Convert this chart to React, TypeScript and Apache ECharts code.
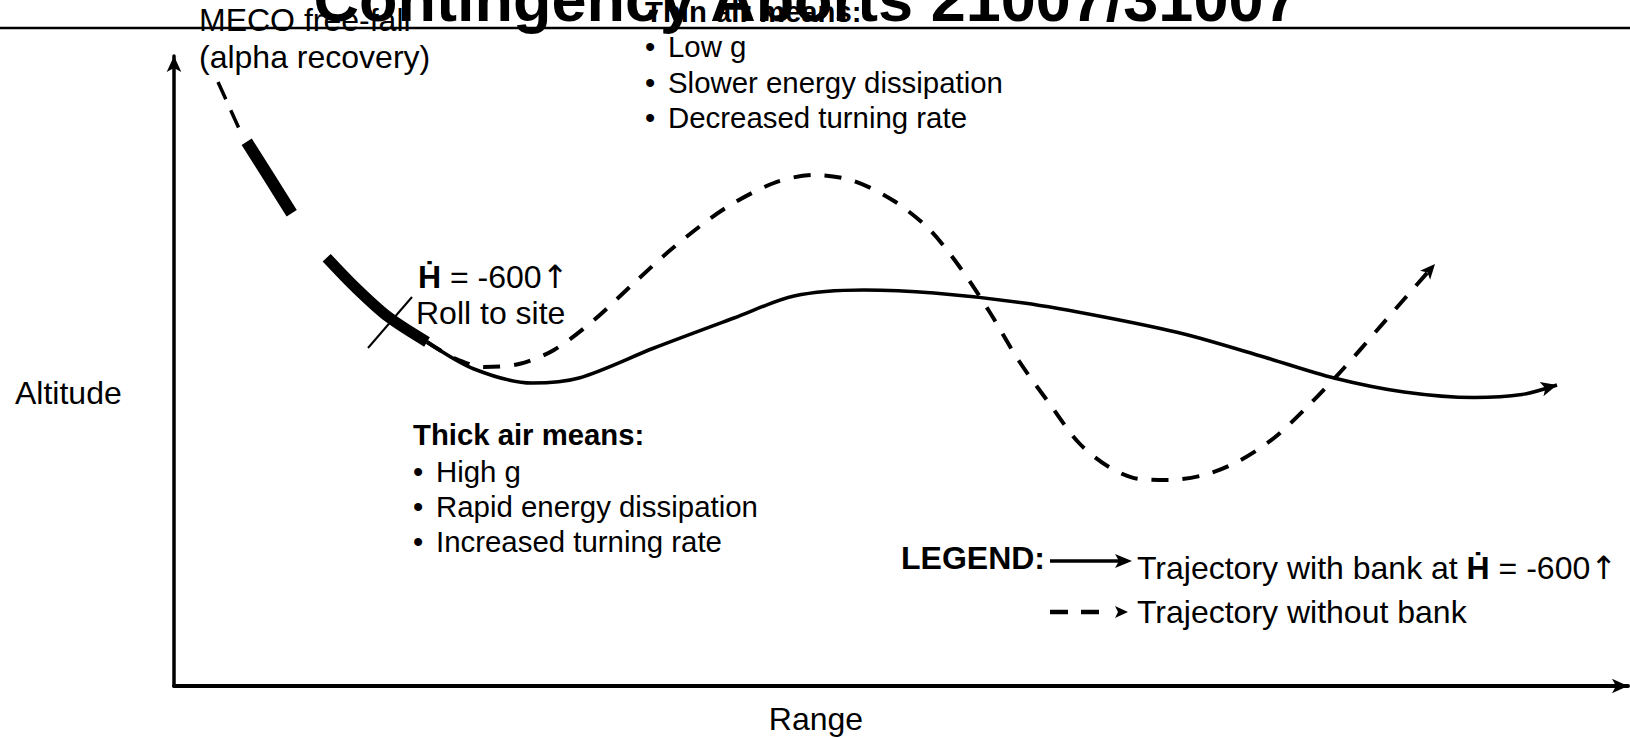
import React, { useEffect, useRef } from 'react';
import * as echarts from 'echarts';

const FONT = "'Liberation Sans', Arial, Helvetica, 'DejaVu Sans', sans-serif";

// Texts
const titleText = 'Contingency Aborts 21007/31007';
const xAxisName = 'Range';
const yAxisName = 'Altitude';
const mecoLabel = ['MECO free-fall', '(alpha recovery)'];
const rollLabel = ['{b|Ḣ} = -600{a|↑}', 'Roll to site'];
const thinAirHeader = 'Thin air means:';
const thinAirItems = ['Low g', 'Slower energy dissipation', 'Decreased turning rate'];
const thickAirHeader = 'Thick air means:';
const thickAirItems = ['High g', 'Rapid energy dissipation', 'Increased turning rate'];
const legendTitle = 'LEGEND:';
const legendItems = ['Trajectory with bank at {b|Ḣ} = -600{a|↑}', 'Trajectory without bank'];

// Axis extents (range, altitude units)
const rangeMax = 1454;
const altitudeMax = 630;

// Trajectory data [range, altitude]
const mecoFreeFall = [[44, 604], [67, 553]];
const mecoThickUpper = [[72.7, 544.3], [95, 509], [117.7, 472.7]];
const mecoThickLower = [[152.7, 428.3], [181, 399], [214, 369.3], [253, 344]];
const withBank = [
  [253, 344], [300, 317], [358, 303], [405, 308], [480, 338], [560, 368], [620, 390],
  [690, 396], [760, 393], [850, 383], [930, 369], [1010, 352], [1090, 329], [1160, 308],
  [1230, 294], [1300, 288.5], [1348, 291.5],
];
const withBankTip = [1383, 301];
const withoutBank = [
  [253, 344], [280, 328], [310, 319], [345, 322], [380, 336], [420, 366], [460, 403],
  [500, 439], [550, 477], [600, 503], [640, 511], [680, 505], [720, 485], [755, 457],
  [785, 420], [815, 375], [845, 325], [875, 283], [905, 243], [935, 219], [965, 207],
  [995, 206], [1030, 211], [1065, 225], [1100, 248], [1135, 281], [1170, 318],
  [1205, 358], [1232, 389],
];
const withoutBankTip = [1261, 422];
const rollMark = [[194, 338], [238, 389]];

export default function App() {
  const ref = useRef<HTMLDivElement>(null);

  useEffect(() => {
    document.body.style.margin = '0';
    const chart = echarts.init(ref.current!, null, { renderer: 'svg' });

    const tipItem = (pts: number[][], tip: number[], size: number[]) => {
      const prev = pts[pts.length - 1];
      const ang = (Math.atan2(tip[1] - prev[1], tip[0] - prev[0]) * 180) / Math.PI;
      return { value: tip, symbol: 'arrow', symbolSize: size, symbolRotate: ang - 90 };
    };

    const base = {
      type: 'line',
      symbol: 'none',
      showSymbol: true,
      smooth: 0.3,
      silent: true,
      animation: false,
      itemStyle: { color: '#000' },
    };

    const rich = {
      b: { fontWeight: 'bold', fontSize: 32, fontFamily: FONT, fill: '#000' },
      a: { fontSize: 32, fontFamily: "'DejaVu Sans', sans-serif", fontWeight: 'normal', fill: '#000' },
    };
    const bulletRich = {
      bl: { width: 23, fontSize: 29.4, fontFamily: FONT, fill: '#000' },
    };
    const txt = (text: string, x: number, y: number, size: number, bold = false, align = 'left', r?: any) => ({
      type: 'text',
      x,
      y,
      z: 50,
      silent: true,
      style: {
        text,
        fontSize: size,
        fontFamily: FONT,
        fontWeight: bold ? 'bold' : 'normal',
        fill: '#000',
        align,
        verticalAlign: 'middle',
        rich: r,
      },
    });

    const graphics: any[] = [
      {
        type: 'line',
        z: 40,
        silent: true,
        shape: { x1: 0, y1: 28, x2: 1630, y2: 28 },
        style: { stroke: '#000', lineWidth: 2.5 },
      },
      txt(titleText, 806, -1, 63, true, 'center'),
      txt(mecoLabel[0], 199, 20, 32),
      txt(mecoLabel[1], 199, 57, 32),
      txt(thinAirHeader, 645, 11.5, 29.3, true),
      ...thinAirItems.map((t, i) => txt('{bl|•}' + t, 645, 46.8 + i * 35.3, 29.4, false, 'left', bulletRich)),
      txt(rollLabel[0], 418, 276.5, 32, false, 'left', rich),
      txt(rollLabel[1], 416, 313, 32),
      txt(thickAirHeader, 413, 434.5, 29.3, true),
      ...thickAirItems.map((t, i) => txt('{bl|•}' + t, 413, 471 + i * 35.3, 29.4, false, 'left', bulletRich)),
      txt(yAxisName, 15, 393, 32),
      txt(xAxisName, 816, 719, 32, false, 'center'),
      txt(legendTitle, 901, 558, 32, true),
      txt(legendItems[0], 1137, 567.5, 32, false, 'left', rich),
      txt(legendItems[1], 1137, 612, 32),
      {
        type: 'line', z: 40, silent: true,
        shape: { x1: 1050, y1: 561, x2: 1120, y2: 561 },
        style: { stroke: '#000', lineWidth: 3.5 },
      },
      {
        type: 'polygon', z: 40, silent: true,
        shape: { points: [[1132, 561], [1115, 554], [1119, 561], [1115, 568]] },
        style: { fill: '#000' },
      },
      {
        type: 'line', z: 40, silent: true,
        shape: { x1: 1050, y1: 612, x2: 1100, y2: 612 },
        style: { stroke: '#000', lineWidth: 4.5, lineDash: [18, 13] },
      },
      {
        type: 'polygon', z: 40, silent: true,
        shape: { points: [[1128, 612], [1115, 606], [1118, 612], [1115, 618]] },
        style: { fill: '#000' },
      },
    ];

    chart.setOption({
      animation: false,
      backgroundColor: '#fff',
      grid: { left: 174, right: 2, top: 56, bottom: 52, containLabel: false },
      xAxis: {
        type: 'value',
        min: 0,
        max: rangeMax,
        axisLine: {
          show: true,
          onZero: false,
          symbol: ['none', 'arrow'],
          symbolSize: [11, 16],
          lineStyle: { color: '#000', width: 4 },
        },
        axisTick: { show: false },
        axisLabel: { show: false },
        splitLine: { show: false },
      },
      yAxis: {
        type: 'value',
        min: 0,
        max: altitudeMax,
        axisLine: {
          show: true,
          onZero: false,
          symbol: ['none', 'arrow'],
          symbolSize: [11, 16],
          lineStyle: { color: '#000', width: 3.5 },
        },
        axisTick: { show: false },
        axisLabel: { show: false },
        splitLine: { show: false },
      },
      series: [
        {
          ...base,
          name: 'MECO free-fall',
          smooth: false,
          data: mecoFreeFall,
          lineStyle: { color: '#000', width: 3.5, type: [19, 12] },
        },
        {
          ...base,
          name: 'Trajectory with bank',
          z: 3,
          data: [...withBank, tipItem(withBank, withBankTip, [11, 16])],
          lineStyle: { color: '#000', width: 3.5 },
        },
        {
          ...base,
          name: 'Trajectory without bank',
          z: 3,
          data: [...withoutBank, tipItem(withoutBank, withoutBankTip, [10, 15])],
          lineStyle: { color: '#000', width: 4, type: [17, 14] },
        },
        {
          ...base,
          name: 'MECO thick upper',
          z: 4,
          data: mecoThickUpper,
          lineStyle: { color: '#000', width: 12 },
        },
        {
          ...base,
          name: 'MECO thick lower',
          z: 4,
          data: mecoThickLower,
          lineStyle: { color: '#000', width: 11 },
        },
        {
          ...base,
          name: 'Roll to site',
          smooth: false,
          z: 5,
          data: rollMark,
          lineStyle: { color: '#000', width: 2 },
        },
      ],
      graphic: graphics,
    });

    return () => chart.dispose();
  }, []);

  return <div ref={ref} style={{ width: 1630, height: 738 }} />;
}
